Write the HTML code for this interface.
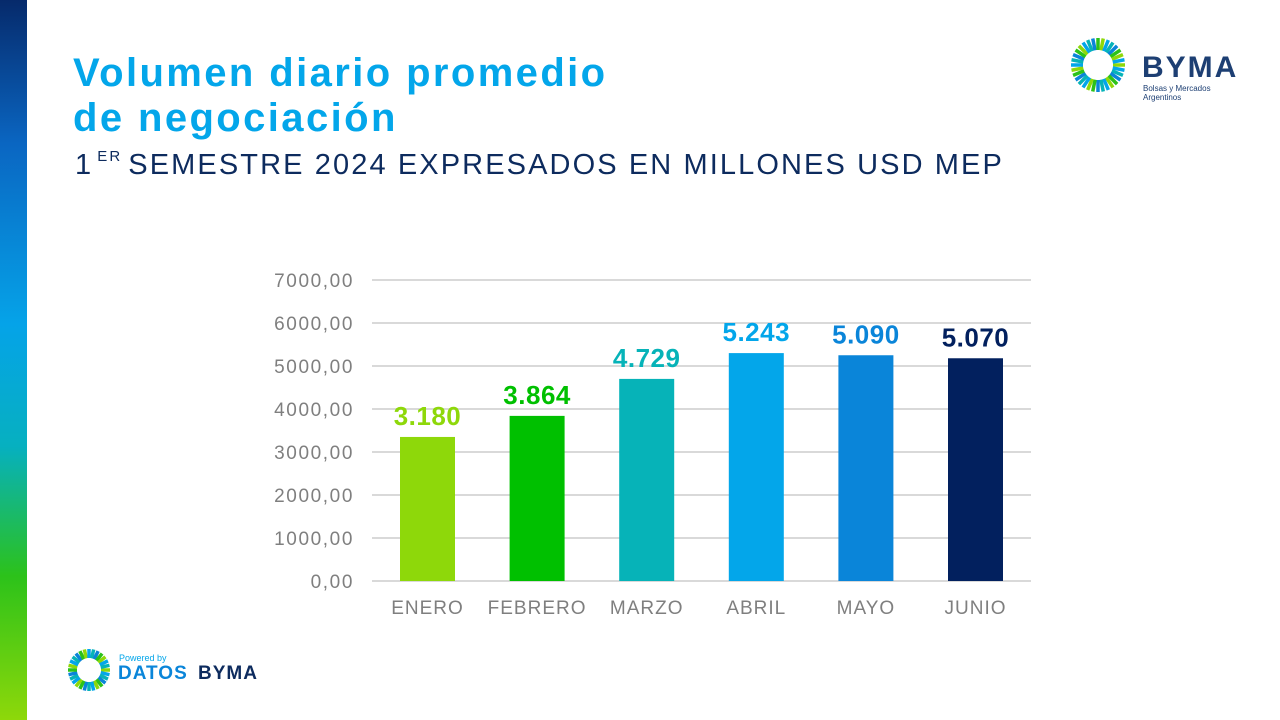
<!DOCTYPE html>
<html><head><meta charset="utf-8"><style>
body{margin:0;width:1280px;height:720px;background:#fff;overflow:hidden;font-family:"Liberation Sans",sans-serif;position:relative}
#sidebar{position:absolute;left:0;top:0;width:27px;height:720px;background:linear-gradient(#062a6b 0%,#0a66c2 20%,#05a3e8 45%,#06b0c0 62%,#2cc21a 80%,#8ed80a 100%)}
h1{position:absolute;left:73px;top:51px;margin:0;font-size:40px;line-height:45px;color:#03a6ea;font-weight:bold;letter-spacing:2.4px}
h2{position:absolute;left:75px;top:148px;margin:0;font-size:29px;font-weight:normal;color:#0d2b5e;letter-spacing:2.1px}
h2 sup{font-size:15px;vertical-align:13px;margin:0 6px 0 4px}
</style></head><body>
<div id="sidebar"></div>
<h1>Volumen diario promedio<br>de negociación</h1>
<h2>1<sup>ER</sup>SEMESTRE 2024 EXPRESADOS EN MILLONES USD MEP</h2>
<svg id="chart" width="1280" height="720" style="position:absolute;left:0;top:0"></svg>
<script>
const categories=["ENERO","FEBRERO","MARZO","ABRIL","MAYO","JUNIO"];
const values=[3350,3840,4700,5300,5250,5180];
const valueLabels=["3.180","3.864","4.729","5.243","5.090","5.070"];
const colors=["#8ed80a","#00c000","#06b3b8","#03a6ea","#0a85d9","#02205e"];
const ticks=[0,1000,2000,3000,4000,5000,6000,7000];
const tickLabels=["0,00","1000,00","2000,00","3000,00","4000,00","5000,00","6000,00","7000,00"];
const NS="http://www.w3.org/2000/svg";
const svg=document.getElementById('chart');
function y(v){return 581-v*43/1000;}
function xc(i){return 427.5+i*109.6;}
function mk(t,a,txt){const e=document.createElementNS(NS,t);for(const k in a)e.setAttribute(k,a[k]);if(txt!==undefined)e.textContent=txt;svg.appendChild(e);return e;}
ticks.forEach((t,i)=>{
 const l=mk('line',{x1:372,x2:1031,y1:y(t),y2:y(t),stroke:'#d9d9d9','stroke-width':2});
 
 
 const tx=mk('text',{x:354,y:y(t)+7,'text-anchor':'end','font-size':19,fill:'#7f7f7f','letter-spacing':1.6,'font-family':'Liberation Sans'},tickLabels[i]);
 
 
});
categories.forEach((c,i)=>{
 const b=mk('rect',{x:xc(i)-27.5,y:y(values[i]),width:55,height:581-y(values[i]),fill:colors[i]});
 
 
 const v=mk('text',{x:xc(i),y:y(values[i])-12,'text-anchor':'middle','font-size':26,'font-weight':'bold',fill:colors[i],'letter-spacing':0.5,'font-family':'Liberation Sans'},valueLabels[i]);
 
 
 const cl=mk('text',{x:xc(i),y:614,'text-anchor':'middle','font-size':19,fill:'#7f7f7f','letter-spacing':1,'font-family':'Liberation Sans'},c);
 
 
});
function ring(cx,cy,r1,r2,n){
 const cs=["#8ed80a","#03a6ea","#06b3b8","#0a85d9","#2cc21a"];
 for(let k=0;k<n;k++){const a=k/n*Math.PI*2;
  const e=mk('line',{x1:cx+r1*Math.cos(a),y1:cy+r1*Math.sin(a),x2:cx+r2*Math.cos(a),y2:cy+r2*Math.sin(a),stroke:cs[k%5],'stroke-width':3.5});
  
  }
}
ring(1098,65,15,27,32);
ring(89,670,12,21,28);
let t=mk('text',{x:1142,y:77,'font-size':30,'font-weight':'bold',fill:'#1d3f73','letter-spacing':2,'font-family':'Liberation Sans'},'BYMA');

t=mk('text',{x:1143,y:91,'font-size':8,fill:'#1d3f73','font-family':'Liberation Sans'},'Bolsas y Mercados');

t=mk('text',{x:1143,y:100,'font-size':8,fill:'#1d3f73','font-family':'Liberation Sans'},'Argentinos');

t=mk('text',{x:119,y:661,'font-size':9,fill:'#03a6ea','font-family':'Liberation Sans'},'Powered by');

t=mk('text',{x:118,y:679,'font-size':19,'font-weight':'bold',fill:'#0a85d9','letter-spacing':1,'font-family':'Liberation Sans'},'DATOS');

t=mk('text',{x:198,y:679,'font-size':19,'font-weight':'bold',fill:'#0d2b5e','letter-spacing':1,'font-family':'Liberation Sans'},'BYMA');

</script>
</body></html>
